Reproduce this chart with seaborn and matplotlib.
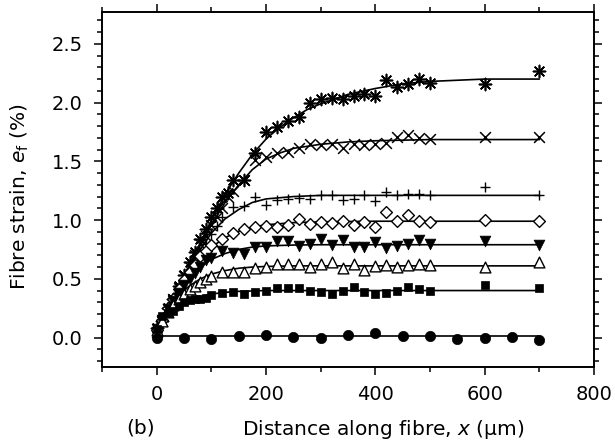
import numpy as np
import pandas as pd
import matplotlib
matplotlib.use("Agg")
import matplotlib.pyplot as plt
from matplotlib.ticker import MultipleLocator
import seaborn as sns

# ---------------- data ----------------
x_early = [0, 10, 20, 30, 40, 50, 60, 70, 80, 90, 100]
x_mid = [120, 140, 160, 180, 200, 220, 240, 260, 280, 300, 320, 340, 360, 380,
         400, 420, 440, 460, 480, 500, 600, 700]

ast_x = x_early + [110, 120, 130, 140] + x_mid[2:]
ast_y = [0.08, 0.14, 0.25, 0.33, 0.44, 0.53, 0.64, 0.73, 0.84, 0.92, 1.03,
         1.10, 1.20, 1.23, 1.34,
         1.34, 1.57, 1.75, 1.79, 1.84, 1.88, 2.00, 2.03, 2.04, 2.03, 2.06, 2.07,
         2.06, 2.19, 2.13, 2.16, 2.20, 2.17, 2.16, 2.27]

crs_x = x_early + [110, 120, 130, 140] + x_mid[2:]
crs_y = [0.05, 0.14, 0.24, 0.33, 0.42, 0.52, 0.60, 0.70, 0.80, 0.86, 0.96,
         1.03, 1.10, 1.20, 1.25,
         1.34, 1.51, 1.54, 1.57, 1.58, 1.61, 1.65, 1.64, 1.65, 1.61, 1.65, 1.64,
         1.645, 1.66, 1.71, 1.72, 1.70, 1.69, 1.71, 1.71]

pls_x = x_early + [110] + x_mid
pls_y = [0.06, 0.15, 0.24, 0.33, 0.42, 0.50, 0.58, 0.66, 0.73, 0.80, 0.88,
         0.95,
         1.03, 1.11, 1.12, 1.20, 1.13, 1.17, 1.18, 1.19, 1.18, 1.21, 1.21, 1.17,
         1.175, 1.21, 1.16, 1.24, 1.21, 1.22, 1.22, 1.21, 1.28, 1.21]

dia_x = x_early + x_mid
dia_y = [0.06, 0.15, 0.25, 0.33, 0.41, 0.49, 0.56, 0.62, 0.69, 0.74, 0.79,
         0.835, 0.89, 0.92, 0.94, 0.95, 0.94, 0.957, 1.01, 0.965, 0.98, 0.976,
         0.99, 0.96, 0.985, 0.94, 1.065, 0.99, 1.04, 0.99, 0.985, 1.00, 0.99]

dtr_x = x_early + x_mid
dtr_y = [0.07, 0.15, 0.24, 0.31, 0.38, 0.45, 0.50, 0.55, 0.60, 0.66, 0.68,
         0.74, 0.716, 0.71, 0.77, 0.77, 0.82, 0.82, 0.78, 0.795, 0.835, 0.79,
         0.83, 0.77, 0.767, 0.815, 0.764, 0.78, 0.80, 0.83, 0.80, 0.82, 0.79]

utr_x = x_early + x_mid
utr_y = [0.06, 0.14, 0.22, 0.28, 0.33, 0.37, 0.41, 0.44, 0.47, 0.50, 0.52,
         0.56, 0.56, 0.56, 0.59, 0.60, 0.625, 0.625, 0.625, 0.60, 0.63, 0.645,
         0.59, 0.63, 0.574, 0.61, 0.617, 0.60, 0.617, 0.63, 0.62, 0.60, 0.645]

sqr_x = x_early + x_mid
sqr_y = [0.07, 0.18, 0.21, 0.23, 0.27, 0.30, 0.32, 0.33, 0.33, 0.34, 0.36,
         0.375, 0.39, 0.37, 0.39, 0.40, 0.42, 0.42, 0.42, 0.40, 0.39, 0.37,
         0.40, 0.427, 0.384, 0.37, 0.376, 0.40, 0.43, 0.41, 0.40, 0.45, 0.42]

cir_x = [0, 50, 100, 150, 200, 250, 300, 350, 400, 450, 500, 550, 600, 650, 700]
cir_y = [0.0, 0.0, -0.015, 0.015, 0.025, 0.005, 0.0, 0.02, 0.035, 0.015,
         0.013, -0.013, 0.0, 0.007, -0.02]

# fitted curves
ast_fx = [0, 10, 20, 30, 40, 50, 60, 80, 100, 125, 150, 175, 200, 225, 250,
          275, 300, 350, 400, 450, 500, 600, 700]
ast_fy = [0.05, 0.145, 0.24, 0.335, 0.43, 0.525, 0.62, 0.81, 1.0, 1.22, 1.40,
          1.56, 1.69, 1.79, 1.87, 1.94, 1.99, 2.07, 2.12, 2.16, 2.18, 2.20, 2.20]
crs_fx = [0, 10, 20, 30, 40, 50, 60, 80, 100, 125, 150, 175, 200, 225, 250,
          300, 350, 400, 500, 700]
crs_fy = [0.05, 0.145, 0.24, 0.335, 0.43, 0.52, 0.61, 0.79, 0.96, 1.15, 1.30,
          1.43, 1.52, 1.57, 1.61, 1.645, 1.665, 1.675, 1.685, 1.685]
pls_fx = [0, 10, 20, 30, 40, 50, 60, 80, 100, 125, 150, 175, 200, 250, 300, 700]
pls_fy = [0.05, 0.145, 0.24, 0.335, 0.425, 0.51, 0.59, 0.75, 0.89, 1.01, 1.09,
          1.15, 1.18, 1.20, 1.21, 1.21]
dia_fx = [0, 10, 20, 30, 40, 50, 60, 80, 100, 125, 150, 175, 200, 250, 300,
          400, 700]
dia_fy = [0.05, 0.145, 0.24, 0.33, 0.41, 0.49, 0.56, 0.68, 0.77, 0.85, 0.905,
          0.94, 0.96, 0.978, 0.985, 0.99, 0.99]
dtr_fx = [0, 10, 20, 30, 40, 50, 60, 80, 100, 125, 150, 175, 200, 250, 300, 700]
dtr_fy = [0.05, 0.145, 0.235, 0.32, 0.39, 0.455, 0.51, 0.60, 0.665, 0.715,
          0.75, 0.77, 0.78, 0.787, 0.79, 0.79]
utr_fx = [0, 10, 20, 30, 40, 50, 60, 80, 100, 125, 150, 175, 200, 250, 700]
utr_fy = [0.05, 0.14, 0.22, 0.29, 0.35, 0.40, 0.44, 0.50, 0.54, 0.57, 0.59,
          0.60, 0.605, 0.61, 0.61]
sqr_fx = [0, 10, 20, 30, 40, 50, 60, 80, 100, 125, 150, 200, 300, 700]
sqr_fy = [0.06, 0.14, 0.20, 0.245, 0.28, 0.305, 0.325, 0.35, 0.37, 0.385,
          0.393, 0.40, 0.40, 0.40]
cir_fx = [0, 700]
cir_fy = [0.01, 0.01]

x_ticks = [0, 200, 400, 600, 800]
y_ticks = [0.0, 0.5, 1.0, 1.5, 2.0, 2.5]

# ---------------- styling ----------------
sns.set_theme(style="ticks")
plt.rcParams["font.family"] = ["DejaVu Sans"]
plt.rcParams["mathtext.fontset"] = "dejavusans"

FS_TICK = 14
FS_LAB = 14.5

fig = plt.figure(figsize=(6.15, 4.48), dpi=100)
ax = fig.add_axes([0.166, 0.181, 0.800, 0.792])

curves = [
    (ast_fx, ast_fy), (crs_fx, crs_fy), (pls_fx, pls_fy), (dia_fx, dia_fy),
    (dtr_fx, dtr_fy), (utr_fx, utr_fy), (sqr_fx, sqr_fy), (cir_fx, cir_fy),
]
for fx, fy in curves:
    sns.lineplot(x=fx, y=fy, ax=ax, color="black", linewidth=1.2,
                 estimator=None, sort=False, zorder=2)

series = [
    (ast_x, ast_y, dict(marker=(8, 2, 0), s=75, color="black", linewidth=1.2)),
    (crs_x, crs_y, dict(marker="x", s=60, color="black", linewidth=1.1)),
    (pls_x, pls_y, dict(marker="+", s=60, color="black", linewidth=1.0)),
    (dia_x, dia_y, dict(marker="D", s=36, facecolor="white", edgecolor="black",
                        linewidth=1.0)),
    (dtr_x, dtr_y, dict(marker="v", s=60, color="black", edgecolor="black",
                        linewidth=0.5)),
    (utr_x, utr_y, dict(marker="^", s=60, facecolor="white", edgecolor="black",
                        linewidth=1.0)),
    (sqr_x, sqr_y, dict(marker="s", s=40, color="black", edgecolor="black",
                        linewidth=0.5)),
    (cir_x, cir_y, dict(marker="o", s=55, color="black", edgecolor="black",
                        linewidth=0.5)),
]
for sx, sy, kw in series:
    sns.scatterplot(x=sx, y=sy, ax=ax, zorder=3, **kw)

ax.set_xlim(-100, 770)
ax.set_ylim(-0.25, 2.77)
ax.set_xticks(x_ticks)
ax.set_xticklabels([str(v) for v in x_ticks])
ax.set_yticks(y_ticks)
ax.set_yticklabels([f"{v:.1f}" for v in y_ticks])
ax.xaxis.set_minor_locator(MultipleLocator(100))
ax.yaxis.set_minor_locator(MultipleLocator(0.1))

for sp in ax.spines.values():
    sp.set_visible(True)
    sp.set_linewidth(1.4)
    sp.set_color("black")

ax.tick_params(which="both", direction="out", top=True, right=True,
               labeltop=False, labelright=False, color="black", width=1.1)
ax.tick_params(which="major", length=6, labelsize=FS_TICK,
               labelcolor="black")
ax.tick_params(which="minor", length=3.5)
ax.tick_params(axis="x", which="major", pad=7)
ax.tick_params(axis="y", which="major", pad=8)

ax.set_xlabel(r"Distance along fibre, $x$ (μm)", fontsize=FS_LAB,
              color="black")
ax.set_ylabel(r"Fibre strain, $e_\mathrm{f}$ (%)", fontsize=FS_LAB,
              color="black")
ax.xaxis.set_label_coords(0.571, -0.145)
ax.yaxis.set_label_coords(-0.145, 0.48)
fig.text(0.228, 0.045, "(b)", fontsize=FS_LAB, ha="center", va="center",
         color="black")

fig.savefig("out.png", dpi=100)
